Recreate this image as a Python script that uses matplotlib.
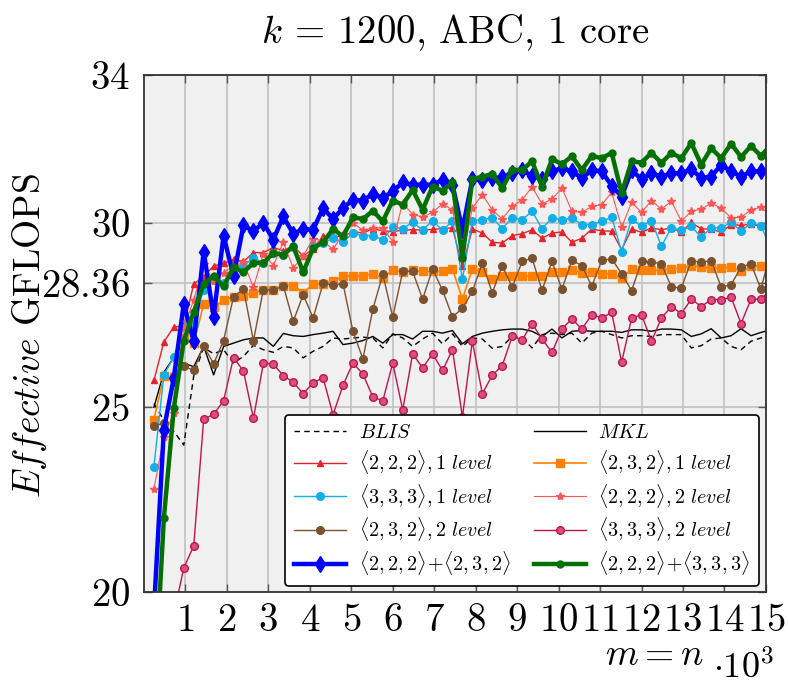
import numpy as np
import matplotlib
matplotlib.use("Agg")
import matplotlib.pyplot as plt

plt.rcParams['mathtext.fontset'] = 'cm'
plt.rcParams['font.family'] = ['cmr10', 'DejaVu Serif']

# problem sizes m = n (step 240)
sizes = 240 * np.arange(1, 64)

blis = [25.1, 24.65, 24.35, 23.98, 25.85, 26.62, 26.45, 26.56, 26.2, 26.38,
        26.68, 26.56, 26.49, 26.65, 26.61, 26.34, 26.52, 26.65, 26.88, 26.85,
        26.88, 26.9, 26.88, 26.61, 26.99, 26.88, 26.65, 26.85, 27.01, 26.72,
        26.99, 26.65, 26.88, 26.85, 26.6, 26.65, 26.92, 26.88, 26.61, 26.97,
        27.01, 26.97, 27.01, 26.74, 27.01, 27.06, 26.97, 26.88, 26.94, 26.94,
        26.92, 26.97, 26.97, 26.97, 26.61, 26.67, 26.85, 26.88, 26.65, 26.56,
        26.79, 26.88, 26.95]
mkl = [25.0, 25.95, 26.35, 26.2, 26.1, 26.65, 25.88, 26.65, 26.74, 26.83,
       26.88, 26.88, 26.65, 27.0, 26.94, 26.92, 26.97, 27.01, 27.06, 26.7,
       26.74, 26.81, 26.92, 26.74, 26.97, 26.97, 26.85, 27.06, 27.06, 27.01,
       27.08, 26.72, 26.92, 27.01, 27.06, 27.1, 27.12, 27.12, 27.06, 26.92,
       27.12, 26.88, 27.06, 27.08, 27.06, 27.06, 27.06, 27.03, 27.1, 27.1,
       27.06, 27.12, 27.12, 27.1, 26.92, 26.99, 27.13, 26.88, 26.94, 27.13,
       26.94, 27.03, 27.1]
s222_1 = [25.73, 26.77, 27.18, 27.2, 28.34, 28.54, 28.83, 28.9, 29.01, 28.95,
          29.19, 29.19, 29.33, 29.24, 29.38, 29.09, 29.3, 29.63, 29.63, 29.63,
          29.76, 29.72, 29.84, 29.78, 29.76, 29.8, 29.81, 29.8, 29.82, 29.84,
          29.86, 28.82, 29.83, 29.72, 29.47, 29.45, 29.65, 29.7, 29.81, 29.58,
          29.72, 29.75, 29.47, 29.58, 29.83, 29.78, 29.77, 29.27, 29.83, 29.74,
          29.86, 29.81, 29.86, 29.74, 30.01, 29.83, 29.83, 29.74, 29.95, 29.93,
          29.96, 29.9, 29.9]
s232_1 = [24.67, 25.85, 25.82, 26.89, 26.73, 27.79, 27.73, 27.9, 28.0, 28.02,
          28.1, 28.19, 28.17, 28.3, 28.3, 28.11, 28.33, 28.35, 28.42, 28.55,
          28.55, 28.56, 28.61, 28.5, 28.72, 28.67, 28.71, 28.68, 28.68, 28.68,
          28.75, 27.93, 28.75, 28.66, 28.47, 28.55, 28.57, 28.55, 28.55, 28.56,
          28.66, 28.66, 28.71, 28.64, 28.66, 28.62, 28.62, 28.5, 28.75, 28.71,
          28.71, 28.71, 28.75, 28.77, 28.84, 28.8, 28.77, 28.77, 28.8, 28.68,
          28.82, 28.84, 28.85]
s333_1 = [23.39, 25.88, 26.37, 27.2, 27.27, 28.19, 28.45, 28.36, 28.81, 28.83,
          29.05, 28.92, 29.17, 29.12, 29.35, 28.72, 29.36, 29.45, 29.58, 29.47,
          29.72, 29.65, 29.65, 29.54, 29.88, 29.84, 30.01, 29.8, 30.06, 29.79,
          30.05, 28.47, 30.05, 30.08, 30.14, 29.84, 30.14, 30.08, 30.31, 29.84,
          30.13, 30.08, 30.13, 29.95, 29.95, 30.04, 30.15, 29.22, 30.1, 29.9,
          30.06, 29.36, 29.87, 29.79, 29.9, 29.61, 29.86, 29.86, 30.01, 29.77,
          29.99, 29.92, 29.3]
s222_2 = [22.8, 24.2, 24.85, 27.17, 27.9, 28.88, 28.42, 28.65, 28.82, 28.93,
          28.25, 29.16, 28.84, 29.47, 28.77, 29.1, 29.57, 29.5, 29.28, 29.7,
          29.99, 29.8, 29.86, 29.86, 29.49, 30.54, 30.22, 30.16, 30.28, 30.51,
          30.35, 29.04, 30.4, 30.76, 30.35, 30.1, 30.44, 30.62, 30.97, 30.51,
          30.64, 30.94, 30.31, 30.28, 30.44, 30.49, 30.82, 29.88, 30.55, 30.28,
          30.6, 30.37, 30.58, 30.04, 30.31, 30.37, 30.53, 30.4, 30.13, 30.15,
          30.35, 30.42, 30.2]
s232_2 = [24.5, 24.57, 25.77, 26.12, 26.0, 26.67, 26.18, 26.81, 27.99, 28.21,
          26.8, 28.19, 28.17, 28.29, 27.33, 28.05, 27.42, 28.36, 28.31, 28.35,
          27.06, 26.31, 27.66, 28.6, 27.45, 28.68, 28.68, 27.93, 28.75, 28.17,
          27.45, 27.68, 28.14, 28.91, 28.1, 28.84, 28.25, 28.95, 29.04, 28.17,
          28.95, 28.2, 28.98, 28.84, 28.28, 28.98, 29.02, 28.62, 28.16, 28.95,
          28.93, 28.89, 28.26, 28.23, 28.97, 28.93, 28.97, 28.26, 28.32, 28.8,
          28.89, 28.2, 29.25]
s333_2 = [16.0, 18.0, 19.4, 20.65, 21.25, 24.68, 24.81, 25.18, 26.35, 25.98,
          24.7, 26.2, 26.17, 25.86, 25.68, 25.37, 25.67, 25.8, 24.8, 25.6,
          26.2, 25.9, 25.28, 25.18, 26.2, 24.93, 26.45, 26.07, 26.45, 26.0,
          26.56, 24.74, 26.79, 25.37, 25.87, 26.13, 26.92, 26.83, 27.27, 26.85,
          26.49, 27.12, 27.4, 27.12, 27.51, 27.42, 27.57, 26.22, 27.42, 27.51,
          26.79, 27.42, 27.73, 27.54, 27.93, 27.73, 27.92, 27.92, 27.98, 27.27,
          27.93, 27.93, 28.2]
hyb_222_232 = [19.5, 24.4, 25.8, 27.8, 26.79, 29.22, 27.46, 29.65, 28.55, 29.93,
               29.77, 30.0, 29.54, 30.17, 29.7, 29.83, 29.81, 30.4, 30.1, 30.4,
               30.62, 30.6, 30.78, 30.67, 30.85, 31.09, 31.03, 31.03, 31.03, 31.16,
               31.03, 29.81, 31.18, 31.16, 31.21, 31.23, 31.34, 31.42, 31.27, 31.19,
               31.39, 31.48, 31.39, 31.21, 31.42, 31.39, 31.0, 30.71, 31.42, 31.18,
               31.34, 31.25, 31.34, 31.34, 31.45, 31.21, 31.25, 31.57, 31.39, 31.25,
               31.39, 31.39, 31.4]
hyb_222_333 = [17.0, 22.0, 24.98, 26.8, 27.58, 28.34, 28.56, 28.28, 28.79, 28.66,
               28.91, 28.91, 29.18, 29.13, 29.36, 28.66, 29.31, 29.47, 29.83, 29.63,
               30.15, 30.1, 30.32, 30.04, 30.6, 30.49, 30.89, 30.35, 30.98, 30.87,
               31.09, 29.05, 31.18, 31.25, 31.32, 30.94, 31.43, 31.43, 31.66, 30.98,
               31.72, 31.59, 31.8, 31.43, 31.81, 31.75, 31.89, 30.8, 31.66, 31.63,
               31.89, 31.62, 31.89, 31.75, 32.16, 31.57, 32.02, 31.75, 32.14, 31.78,
               32.08, 31.81, 32.1]

y_ticks = [20, 25, 28.36, 30, 34]
x_ticks = np.arange(1000, 16000, 1000)

fig = plt.figure(figsize=(7.88, 6.87), dpi=100)
ax = fig.add_axes([0.1827, 0.1383, 0.7893, 0.7525])
ax.set_facecolor('#f0f0f0')

series = [
    (blis, r'$BLIS$', dict(color='black', ls=(0, (4, 3)), lw=1.0)),
    (mkl, r'$MKL$', dict(color='black', lw=1.0)),
    (s222_1, r'$\langle 2,2,2\rangle, 1\ level$',
     dict(color='#e6222a', lw=1.0, marker='^', ms=5)),
    (s232_1, r'$\langle 2,3,2\rangle, 1\ level$',
     dict(color='#ff8000', lw=1.2, marker='s', ms=5.5)),
    (s333_1, r'$\langle 3,3,3\rangle, 1\ level$',
     dict(color='#12aee8', lw=1.0, marker='o', ms=5.5)),
    (s222_2, r'$\langle 2,2,2\rangle, 2\ level$',
     dict(color='#ff5555', lw=0.8, marker='*', ms=6)),
    (s232_2, r'$\langle 2,3,2\rangle, 2\ level$',
     dict(color='#7a5230', lw=1.0, marker='o', ms=5.5)),
    (s333_2, r'$\langle 3,3,3\rangle, 2\ level$',
     dict(color='#c0134e', lw=1.0, marker='o', ms=5.5, mec='#c0134e',
          mfc='#d85080')),
    (hyb_222_232, r'$\langle 2,2,2\rangle\!+\!\langle 2,3,2\rangle$',
     dict(color='#0000ff', lw=3.2, marker='d', ms=8)),
    (hyb_222_333, r'$\langle 2,2,2\rangle\!+\!\langle 3,3,3\rangle$',
     dict(color='#047004', lw=3.2, marker='o', ms=5)),
]

handles = []
for vals, label, style in series:
    h, = ax.plot(sizes, vals, label=label, **style)
    handles.append(h)

ax.set_xlim(0, 15000)
ax.set_ylim(20, 34)
ax.set_xticks(x_ticks)
ax.set_xticklabels([rf'${int(t / 1000)}$' for t in x_ticks])
ax.set_yticks(y_ticks)
ax.set_yticklabels([rf'${t:g}$' for t in y_ticks])
ax.tick_params(direction='in', length=6, width=1, color='#555555',
               top=True, right=True, labelsize=28)
ax.tick_params(axis='x', pad=8)
ax.tick_params(axis='y', pad=10)
ax.grid(True, color='#c4c4c4', lw=1.3)
ax.set_axisbelow(True)
for sp in ax.spines.values():
    sp.set_color('#333333')
    sp.set_linewidth(1.3)

# two-column legend, row-major order
order = [0, 2, 4, 6, 8, 1, 3, 5, 7, 9]
leg = ax.legend([handles[i] for i in order],
                [handles[i].get_label() for i in order],
                ncol=2, mode='expand', fontsize=14.5, numpoints=1,
                handlelength=2.6, labelspacing=0.28, handletextpad=0.6,
                borderpad=0.45, borderaxespad=0, fancybox=True, framealpha=1,
                edgecolor='black',
                bbox_to_anchor=(0.3617, 0.147, 0.6015, 0.2314),
                bbox_transform=fig.transFigure, loc='lower left')
leg.get_frame().set_linewidth(1.2)

fig.text(0.5774, 0.953, r'$k$ = 1200, ABC, 1 core',
         fontsize=28, ha='center', va='center')
fig.text(0.037, 0.512, r'$\mathit{Effective}$ GFLOPS',
         fontsize=27, rotation=90, ha='center', va='center')
fig.text(0.831, 0.046, r'$m = n$', fontsize=27, ha='center', va='center')
fig.text(0.944, 0.003, r'$\cdot 10^3$', fontsize=26, ha='center',
         va='bottom')

fig.savefig('out.png', dpi=100)
